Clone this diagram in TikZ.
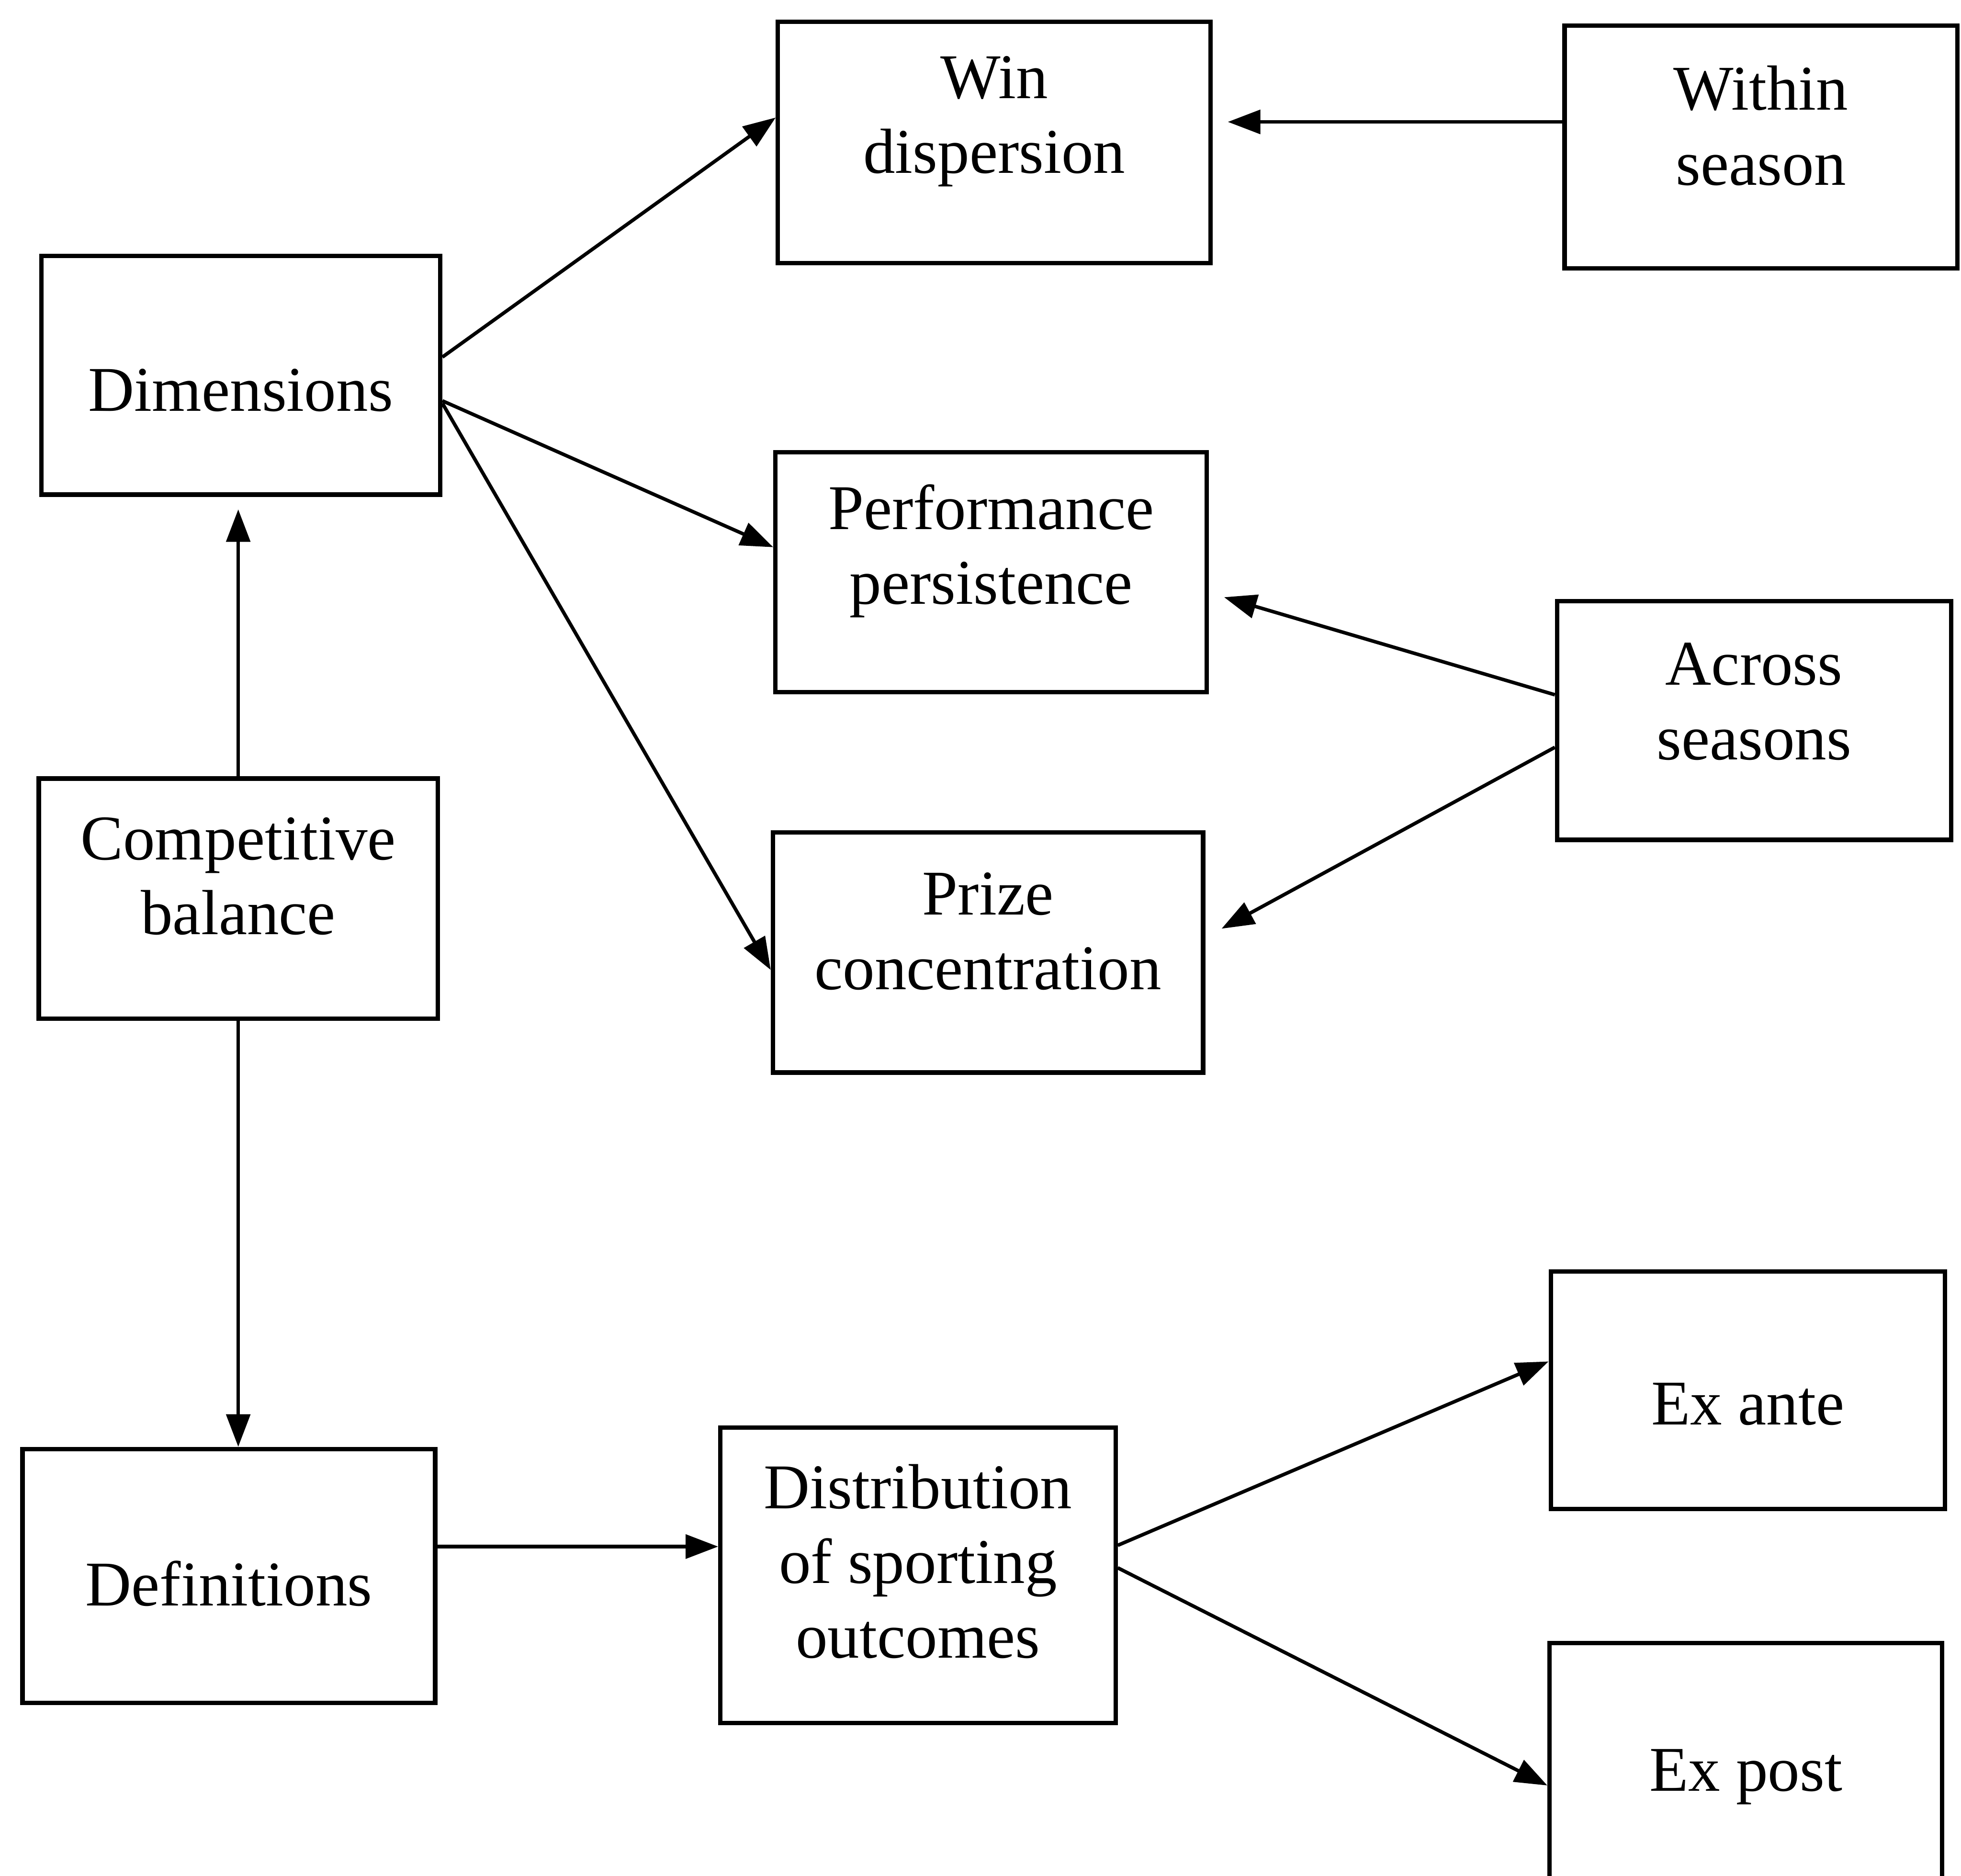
\documentclass[tikz,border=0pt]{standalone}
\usepackage{fontspec}
\setmainfont{Liberation Serif}
\usetikzlibrary{arrows.meta,calc}
\begin{document}
\begin{tikzpicture}[
  box/.style={draw, line width=1pt, inner sep=0pt, minimum width=#1},
  txt/.style={align=center, inner sep=0pt, font=\fontsize{14.5}{17}\selectfont},
  conn/.style={line width=0.8pt, -{Triangle[length=2.6mm,width=1.9mm]}}
]
\useasboundingbox (0,0) rectangle (15.68,14.995);
% boxes
\node[box=3.46cm, minimum height=1.93cm] (win) at (7.95,13.855) {};
\node[box=3.14cm, minimum height=1.94cm] (within) at (14.08,13.82) {};
\node[box=3.19cm, minimum height=1.91cm] (dim) at (1.925,11.995) {};
\node[box=3.45cm, minimum height=1.92cm] (perf) at (7.925,10.42) {};
\node[box=3.15cm, minimum height=1.91cm] (across) at (14.025,9.235) {};
\node[box=3.44cm, minimum height=1.92cm] (prize) at (7.90,7.38) {};
\node[box=3.19cm, minimum height=1.92cm] (cb) at (1.905,7.81) {};
\node[box=3.30cm, minimum height=2.03cm] (def) at (1.83,2.395) {};
\node[box=3.16cm, minimum height=2.36cm] (dist) at (7.34,2.40) {};
\node[box=3.15cm, minimum height=1.90cm] (exante) at (13.975,3.88) {};
\node[box=3.14cm, minimum height=2.02cm] (expost) at (13.96,0.85) {};
% texts
\node[txt] (win-t) at ($(win.center)+(0,0.17)$) {Win\\dispersion};
\node[txt] (within-t) at ($(within.center)+(0,0.17)$) {Within\\season};
\node[txt] (dim-t) at ($(dim.center)+(0,-0.12)$) {Dimensions};
\node[txt] (perf-t) at ($(perf.center)+(0,0.17)$) {Performance\\persistence};
\node[txt] (across-t) at ($(across.center)+(0,0.15)$) {Across\\seasons};
\node[txt] (prize-t) at ($(prize.center)+(0,0.17)$) {Prize\\concentration};
\node[txt] (cb-t) at ($(cb.center)+(0,0.18)$) {Competitive\\balance};
\node[txt] (def-t) at ($(def.center)+(0,-0.06)$) {Definitions};
\node[txt] (dist-t) at ($(dist.center)+(0,0.11)$) {Distribution\\of sporting\\outcomes};
\node[txt] (exante-t) at ($(exante.center)+(0,-0.11)$) {Ex ante};
\node[txt] (expost-t) at ($(expost.center)+(0,-0.06)$) {Ex post};
% connectors
\coordinate (ws) at ([yshift=0.2cm]within.west);
\coordinate (wt) at ([xshift=0.12cm]ws -| win.east);
\draw[conn] ([yshift=0.145cm]dim.east) -- ([yshift=0.2cm]win.west);
\draw[conn] ([yshift=-0.205cm]dim.east) -- ([yshift=0.2cm]perf.west);
\draw[conn] ([yshift=-0.225cm]dim.east) -- ([yshift=-0.14cm]prize.west);
\draw[conn] (ws) -- (wt);
\draw[conn] ([yshift=0.205cm]across.west) -- ([xshift=0.12cm,yshift=-0.2cm]perf.east);
\draw[conn] ([yshift=-0.215cm]across.west) -- ([xshift=0.13cm,yshift=0.19cm]prize.east);
\draw[conn] (cb.north) -- ([yshift=-0.10cm]cb.north |- dim.south);
\draw[conn] (cb.south) -- (cb.south |- def.north);
\draw[conn] ([yshift=0.235cm]def.east) -- ([yshift=0.235cm]def.east -| dist.west);
\draw[conn] ([yshift=0.24cm]dist.east) -- ([yshift=0.23cm]exante.west);
\draw[conn] ([yshift=0.06cm]dist.east) -- ([yshift=-0.13cm]expost.west);
\end{tikzpicture}
\end{document}
